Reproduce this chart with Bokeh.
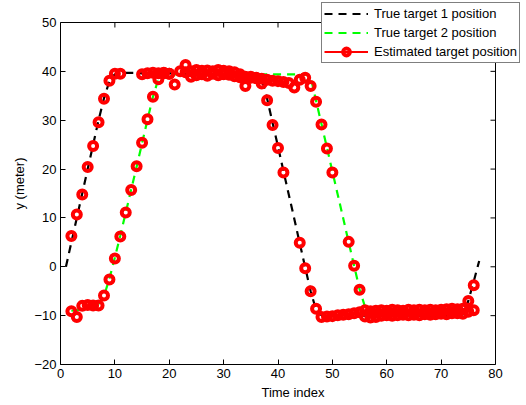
import math
from bokeh.plotting import figure
from bokeh.models import Legend, LegendItem, Range1d, FixedTicker
from bokeh.embed import file_html
from bokeh.resources import INLINE

# ---- data ----
t_true1 = list(range(1, 78))
y_true1 = [0, 5, 10, 15, 20, 25, 30, 34.5, 38, 39.4,
           39.6, 39.7, 39.7, 39.7, 39.6, 39.6, 39.6, 39.6, 39.6, 39.6,
           39.6, 39.5, 39.5, 39.5, 39.5, 39.5, 39.5, 39.4, 39.4, 39.4,
           39.4, 39.4, 39.3, 39.3, 39.3, 39.2, 38.5, 34.4, 29.5, 24.6,
           19.6, 14.7, 9.8, 4.8, -0.1, -5.0, -8.8, -9.9, -10, -10,
           -10, -10, -10, -10, -10, -10, -10, -10, -10, -10,
           -10, -10, -10, -10, -10, -10, -10, -10, -10, -10,
           -10, -10, -10, -9.8, -7.0, -3.0, 1.2]

t_true2 = list(range(2, 77))
y_true2 = [-9.0, -8.9, -8.7, -8.4, -8.1, -7.6, -6.0, -2.4, 1.9, 6.4,
           11.1, 15.8, 20.5, 25.3, 30.1, 34.8, 38.4, 39.4, 39.4, 39.4,
           39.4, 39.4, 39.4, 39.4, 39.4, 39.4, 39.4, 39.4, 39.4, 39.4,
           39.4, 39.4, 39.4, 39.4, 39.4, 39.4, 39.4, 39.4, 39.4, 39.4,
           39.4, 39.4, 39.4, 39.4, 38.8, 34.0, 29.2, 24.4, 19.5, 14.7,
           9.9, 5.0, 0.2, -4.6, -8.2, -9.0, -9.0, -9.0, -9.0, -9.0,
           -9.0, -9.0, -9.0, -9.0, -9.0, -9.0, -9.0, -9.0, -9.0, -9.0,
           -9.0, -9.0, -9.0, -9.0, -9.0]

t_est = list(range(1, 77))
est_a = [None, 6.3, 10.7, 14.8, 20.4, 24.7, 29.6, 34.4, 38.1, 39.5,
         39.5, None, None, None, 39.4, 39.6, 39.7, 39.6, 39.7, 39.5,
         37.3, 40.0, 41.3, 40.0, 40.3, 40.1, 40.2, 40.0, 40.3, 40.1,
         40.0, 39.8, 39.4, 37.0, 38.9, 38.7, 37.5, 34.1, 29.0, 24.3,
         19.3, None, None, 4.9, -0.3, -5.0, -8.6, -10.3, -10.2, -10.1,
         -9.9, -9.8, -9.7, -9.5, -9.3, -10.2, -10.4, -10.3, -10.0, -9.9,
         -10.0, -9.9, -9.8, -9.9, -9.8, -9.9, -9.7, -9.8, -9.7, -9.6,
         -9.7, -9.5, -9.5, -9.6, -7.0, -3.8]
est_b = [None, -9.1, -10.3, -8.0, -7.8, -7.9, -7.9, -5.9, -2.6, 1.7,
         6.2, 11.1, 15.7, 20.6, 25.4, 30.2, 34.8, 38.4, 39.6, 39.5,
         None, None, 39.8, 38.9, 39.2, 39.4, 39.1, 39.5, 39.2, 39.4,
         39.3, 39.0, 38.8, 38.9, 38.7, 38.6, 38.5, 38.3, 38.1, 38.0,
         37.8, 37.6, 36.7, 38.3, 38.7, 37.0, 33.8, 29.1, 24.2, 19.3,
         None, None, 5.1, 0.2, -4.7, -8.9, -9.1, -9.0, -8.9, -9.0,
         -8.8, -8.9, -9.0, -8.8, -8.9, -8.8, -8.9, -8.8, -8.9, -8.8,
         -8.7, -8.6, -8.7, -8.6, -9.2, -8.9]

x_ticks = [0, 10, 20, 30, 40, 50, 60, 70, 80]
y_ticks = [-20, -10, 0, 10, 20, 30, 40, 50]
y_tick_labels = {-20: "\u221220", -10: "\u221210"}

FONT = "Liberation Sans"

# Layout: axes box is 435 x 342 px (left 60, top 22); the drawing frame is
# extended to the right and top so the legend can overlap the box edge.
W, H = 526, 405
LEFT, BOTTOM = 60, 41
BOX_W, BOX_H = 435, 342
FRAME_RIGHT_BORDER, FRAME_TOP_BORDER = 1, 2
frame_w = W - LEFT - FRAME_RIGHT_BORDER
frame_h = H - BOTTOM - FRAME_TOP_BORDER
x0, x1 = x_ticks[0], x_ticks[-1]
y0, y1 = y_ticks[0], y_ticks[-1]
x_end = x0 + (x1 - x0) * frame_w / BOX_W
y_end = y0 + (y1 - y0) * frame_h / BOX_H

p = figure(width=W, height=H, output_backend="svg", toolbar_location=None,
           x_range=Range1d(x0, x_end), y_range=Range1d(y0, y_end),
           min_border_left=LEFT, min_border_right=FRAME_RIGHT_BORDER,
           min_border_top=FRAME_TOP_BORDER, min_border_bottom=BOTTOM)
p.xgrid.visible = False
p.ygrid.visible = False
p.outline_line_color = None
p.background_fill_color = "white"
p.border_fill_color = "white"

for ax in (p.xaxis[0], p.yaxis[0]):
    ax.axis_line_color = "black"
    ax.axis_line_width = 1
    ax.major_tick_in = 5
    ax.major_tick_out = 0
    ax.minor_tick_in = 0
    ax.minor_tick_out = 0
    ax.major_tick_line_color = "black"
    ax.major_label_text_font = FONT
    ax.major_label_text_font_size = "13px"
    ax.major_label_text_color = "black"
    ax.major_label_standoff = 4
    ax.axis_label_text_font = FONT
    ax.axis_label_text_font_size = "13px"
    ax.axis_label_text_font_style = "normal"
    ax.axis_label_text_color = "black"
    ax.axis_label_standoff = 4

p.xaxis.ticker = FixedTicker(ticks=x_ticks)
p.yaxis.ticker = FixedTicker(ticks=y_ticks)
p.xaxis.bounds = (x0, x1)
p.yaxis.bounds = (y0, y1)
p.yaxis.major_label_overrides = y_tick_labels
p.xaxis.axis_label = "Time index"
p.yaxis.axis_label = "y (meter)"

# top and right edges of the axes box, with inward ticks
p.line([x0, x1], [y1, y1], line_color="black", line_width=1)
p.line([x1, x1], [y0, y1], line_color="black", line_width=1)
p.ray(x=x_ticks, y=[y1] * len(x_ticks), length=5, length_units="screen",
      angle=-math.pi / 2, line_color="black", line_width=1)
p.ray(x=[x1] * len(y_ticks), y=y_ticks, length=5, length_units="screen",
      angle=math.pi, line_color="black", line_width=1)

r1 = p.line(t_true1, y_true1, line_color="black", line_width=2.2, line_dash="8 6")
r2 = p.line(t_true2, y_true2, line_color="#00ff00", line_width=2.2, line_dash="8 6")

est_t = [t for t, v in zip(t_est, est_a) if v is not None] + \
        [t for t, v in zip(t_est, est_b) if v is not None]
est_y = [v for v in est_a if v is not None] + [v for v in est_b if v is not None]
r3 = p.scatter(est_t, est_y, marker="circle", size=8, line_color="#ff0000",
               line_width=4, fill_color=None)
# legend-only line sample (kept outside the visible ranges)
r_key_line = p.line([x0 - 2, x0 - 1], [y0 - 2, y0 - 2], line_color="#ff0000", line_width=2)

legend = Legend(items=[
    LegendItem(label="True target 1 position", renderers=[r1]),
    LegendItem(label="True target 2 position", renderers=[r2]),
    LegendItem(label="Estimated target position", renderers=[r_key_line, r3]),
], location=(261, 301))
legend.border_line_color = "black"
legend.border_line_width = 1
legend.background_fill_color = "white"
legend.background_fill_alpha = 1
legend.label_text_font = FONT
legend.label_text_font_size = "13px"
legend.label_text_color = "black"
legend.glyph_width = 44
legend.glyph_height = 17
legend.label_height = 17
legend.label_standoff = 6
legend.spacing = 2
legend.padding = 2
legend.margin = 0
p.add_layout(legend)

open("out.html", "w").write(file_html(p, INLINE))
